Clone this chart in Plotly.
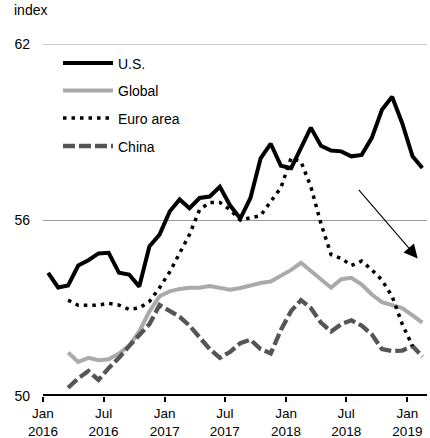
import pandas as pd
import plotly.graph_objects as go

# ---------------- data ----------------
months = pd.date_range(start="2016-01-01", periods=38, freq="MS")

us = [54.2, 53.7, 53.77, 54.45, 54.63, 54.86, 54.88, 54.2, 54.14, 53.73,
      55.1, 55.5, 56.3, 56.7, 56.4, 56.75, 56.8, 57.13, 56.5, 56.05,
      56.75, 58.1, 58.6, 57.85, 57.77, 58.45, 59.15, 58.53, 58.37, 58.34,
      58.17, 58.22, 58.8, 59.76, 60.2, 59.3, 58.17, 57.77]

global_ = [None, None, 51.48, 51.16, 51.3, 51.22, 51.25, 51.45, 51.72, 52.2,
           52.88, 53.4, 53.57, 53.65, 53.69, 53.69, 53.75, 53.7, 53.62, 53.68,
           53.77, 53.85, 53.9, 54.08, 54.3, 54.54, 54.26, 53.97, 53.69, 53.98,
           54.03, 53.8, 53.46, 53.2, 53.1, 53.0, 52.75, 52.5]

euro = [None, None, 53.27, 53.09, 53.09, 53.1, 53.16, 53.1, 52.95, 53.0,
        53.22, 53.69, 54.24, 54.9, 55.5, 56.35, 56.6, 56.6, 56.35, 56.0,
        56.07, 56.15, 56.63, 57.1, 58.12, 57.99, 57.14, 55.88, 54.82, 54.69,
        54.45, 54.6, 54.3, 53.95, 53.4, 52.45, 51.7, None]

china = [None, None, 50.28, 50.6, 50.85, 50.55, 50.95, 51.3, 51.7, 52.05,
         52.45, 53.1, 52.9, 52.7, 52.4, 52.0, 51.6, 51.3, 51.5, 51.8,
         51.92, 51.6, 51.45, 52.25, 52.9, 53.27, 53.0, 52.5, 52.2, 52.45,
         52.58, 52.4, 52.1, 51.6, 51.53, 51.55, 51.7, 51.35]

tick_dates = ["2016-01-01", "2016-07-01", "2017-01-01", "2017-07-01",
              "2018-01-01", "2018-07-01", "2019-01-01"]
tick_text = ["Jan<br>2016", "Jul<br>2016", "Jan<br>2017", "Jul<br>2017",
             "Jan<br>2018", "Jul<br>2018", "Jan<br>2019"]
y_ticks = [50, 56, 62]

series_names = ["U.S.", "Global", "Euro area", "China"]

# arrow (annotation) endpoints
arrow_start = ("2018-08-04", 57.08)
arrow_end = ("2019-02-01", 54.69)

# ---------------- styles ----------------
FONT = "Liberation Sans, Arial, sans-serif"
W, H = 430, 438
ML, MR, MT, MB = 43, 3, 44, 42
styles = {
    "U.S.": dict(color="#000000", width=4, dash="solid"),
    "Global": dict(color="#aaaaaa", width=4, dash="solid"),
    "Euro area": dict(color="#000000", width=3.5, dash="3.5px,5px"),
    "China": dict(color="#555555", width=4.3, dash="12px,4px"),
}
data_map = {"U.S.": us, "Global": global_, "Euro area": euro, "China": china}

fig = go.Figure()
for name in ["Global", "China", "Euro area", "U.S."]:
    fig.add_trace(go.Scatter(
        x=months, y=data_map[name], name=name, mode="lines",
        line=styles[name], connectgaps=False,
        xperiod="M1", xperiodalignment="middle",
        showlegend=False, hoverinfo="skip"))

pw = W - ML - MR
ph = H - MT - MB


def px_x(px):
    return (px - ML) / pw


def px_y(py):
    return (H - MB - py) / ph


shapes = []
annotations = []

# gridline at top value (edge of plot area)
shapes.append(dict(type="line", xref="paper", yref="y", x0=0, x1=1,
                   y0=y_ticks[-1], y1=y_ticks[-1],
                   line=dict(color="#9a9a9a", width=1), layer="below"))
# thick base axis line at 50
shapes.append(dict(type="line", xref="paper", yref="y", x0=0, x1=1,
                   y0=y_ticks[0], y1=y_ticks[0],
                   line=dict(color="#000000", width=4), layer="above"))

# manual legend
legend_rows = [63, 90.5, 118, 146]
for name, yy in zip(series_names, legend_rows):
    st = styles[name]
    shapes.append(dict(type="line", xref="paper", yref="paper",
                       x0=px_x(63), x1=px_x(113), y0=px_y(yy), y1=px_y(yy),
                       line=dict(color=st["color"], width=st["width"],
                                 dash=st["dash"])))
    annotations.append(dict(xref="paper", yref="paper", x=px_x(116),
                            y=px_y(yy + 1), text=name, showarrow=False,
                            xanchor="left", yanchor="middle",
                            font=dict(family=FONT, size=14, color="#000000")))

# axis title "index"
annotations.append(dict(xref="paper", yref="paper", x=px_x(12), y=px_y(9.5),
                        text="index", showarrow=False, xanchor="left",
                        yanchor="middle",
                        font=dict(family=FONT, size=14, color="#000000")))

# arrow
annotations.append(dict(x=arrow_end[0], y=arrow_end[1], ax=arrow_start[0],
                        ay=arrow_start[1], xref="x", yref="y", axref="x",
                        ayref="y", showarrow=True, arrowhead=2, arrowsize=2.5,
                        arrowwidth=1.1, arrowcolor="#000000", text=""))

fig.update_layout(
    width=W, height=H,
    margin=dict(l=ML, r=MR, t=MT, b=MB, autoexpand=False),
    paper_bgcolor="white", plot_bgcolor="white",
    font=dict(family=FONT, size=14, color="#000000"),
    shapes=shapes, annotations=annotations,
    showlegend=False,
    xaxis=dict(range=["2016-01-01", "2019-03-01"], tickmode="array",
               tickvals=tick_dates, ticktext=tick_text, showgrid=False,
               zeroline=False, showline=False, ticks="outside", ticklen=5,
               tickwidth=2, tickcolor="#000000", automargin=False,
               tickfont=dict(family=FONT, size=13.5, color="#000000")),
    yaxis=dict(range=[50, 62], tickmode="array", tickvals=y_ticks,
               showgrid=True, gridcolor="#9a9a9a", gridwidth=1,
               zeroline=False, showline=False, ticks="", automargin=False,
               ticklabelstandoff=12,
               tickfont=dict(family=FONT, size=14, color="#000000")),
)

fig.write_html("out.html",
               config={"displayModeBar": False},
               post_script="document.body.style.margin='0';"
                           "document.body.style.overflow='hidden';")
